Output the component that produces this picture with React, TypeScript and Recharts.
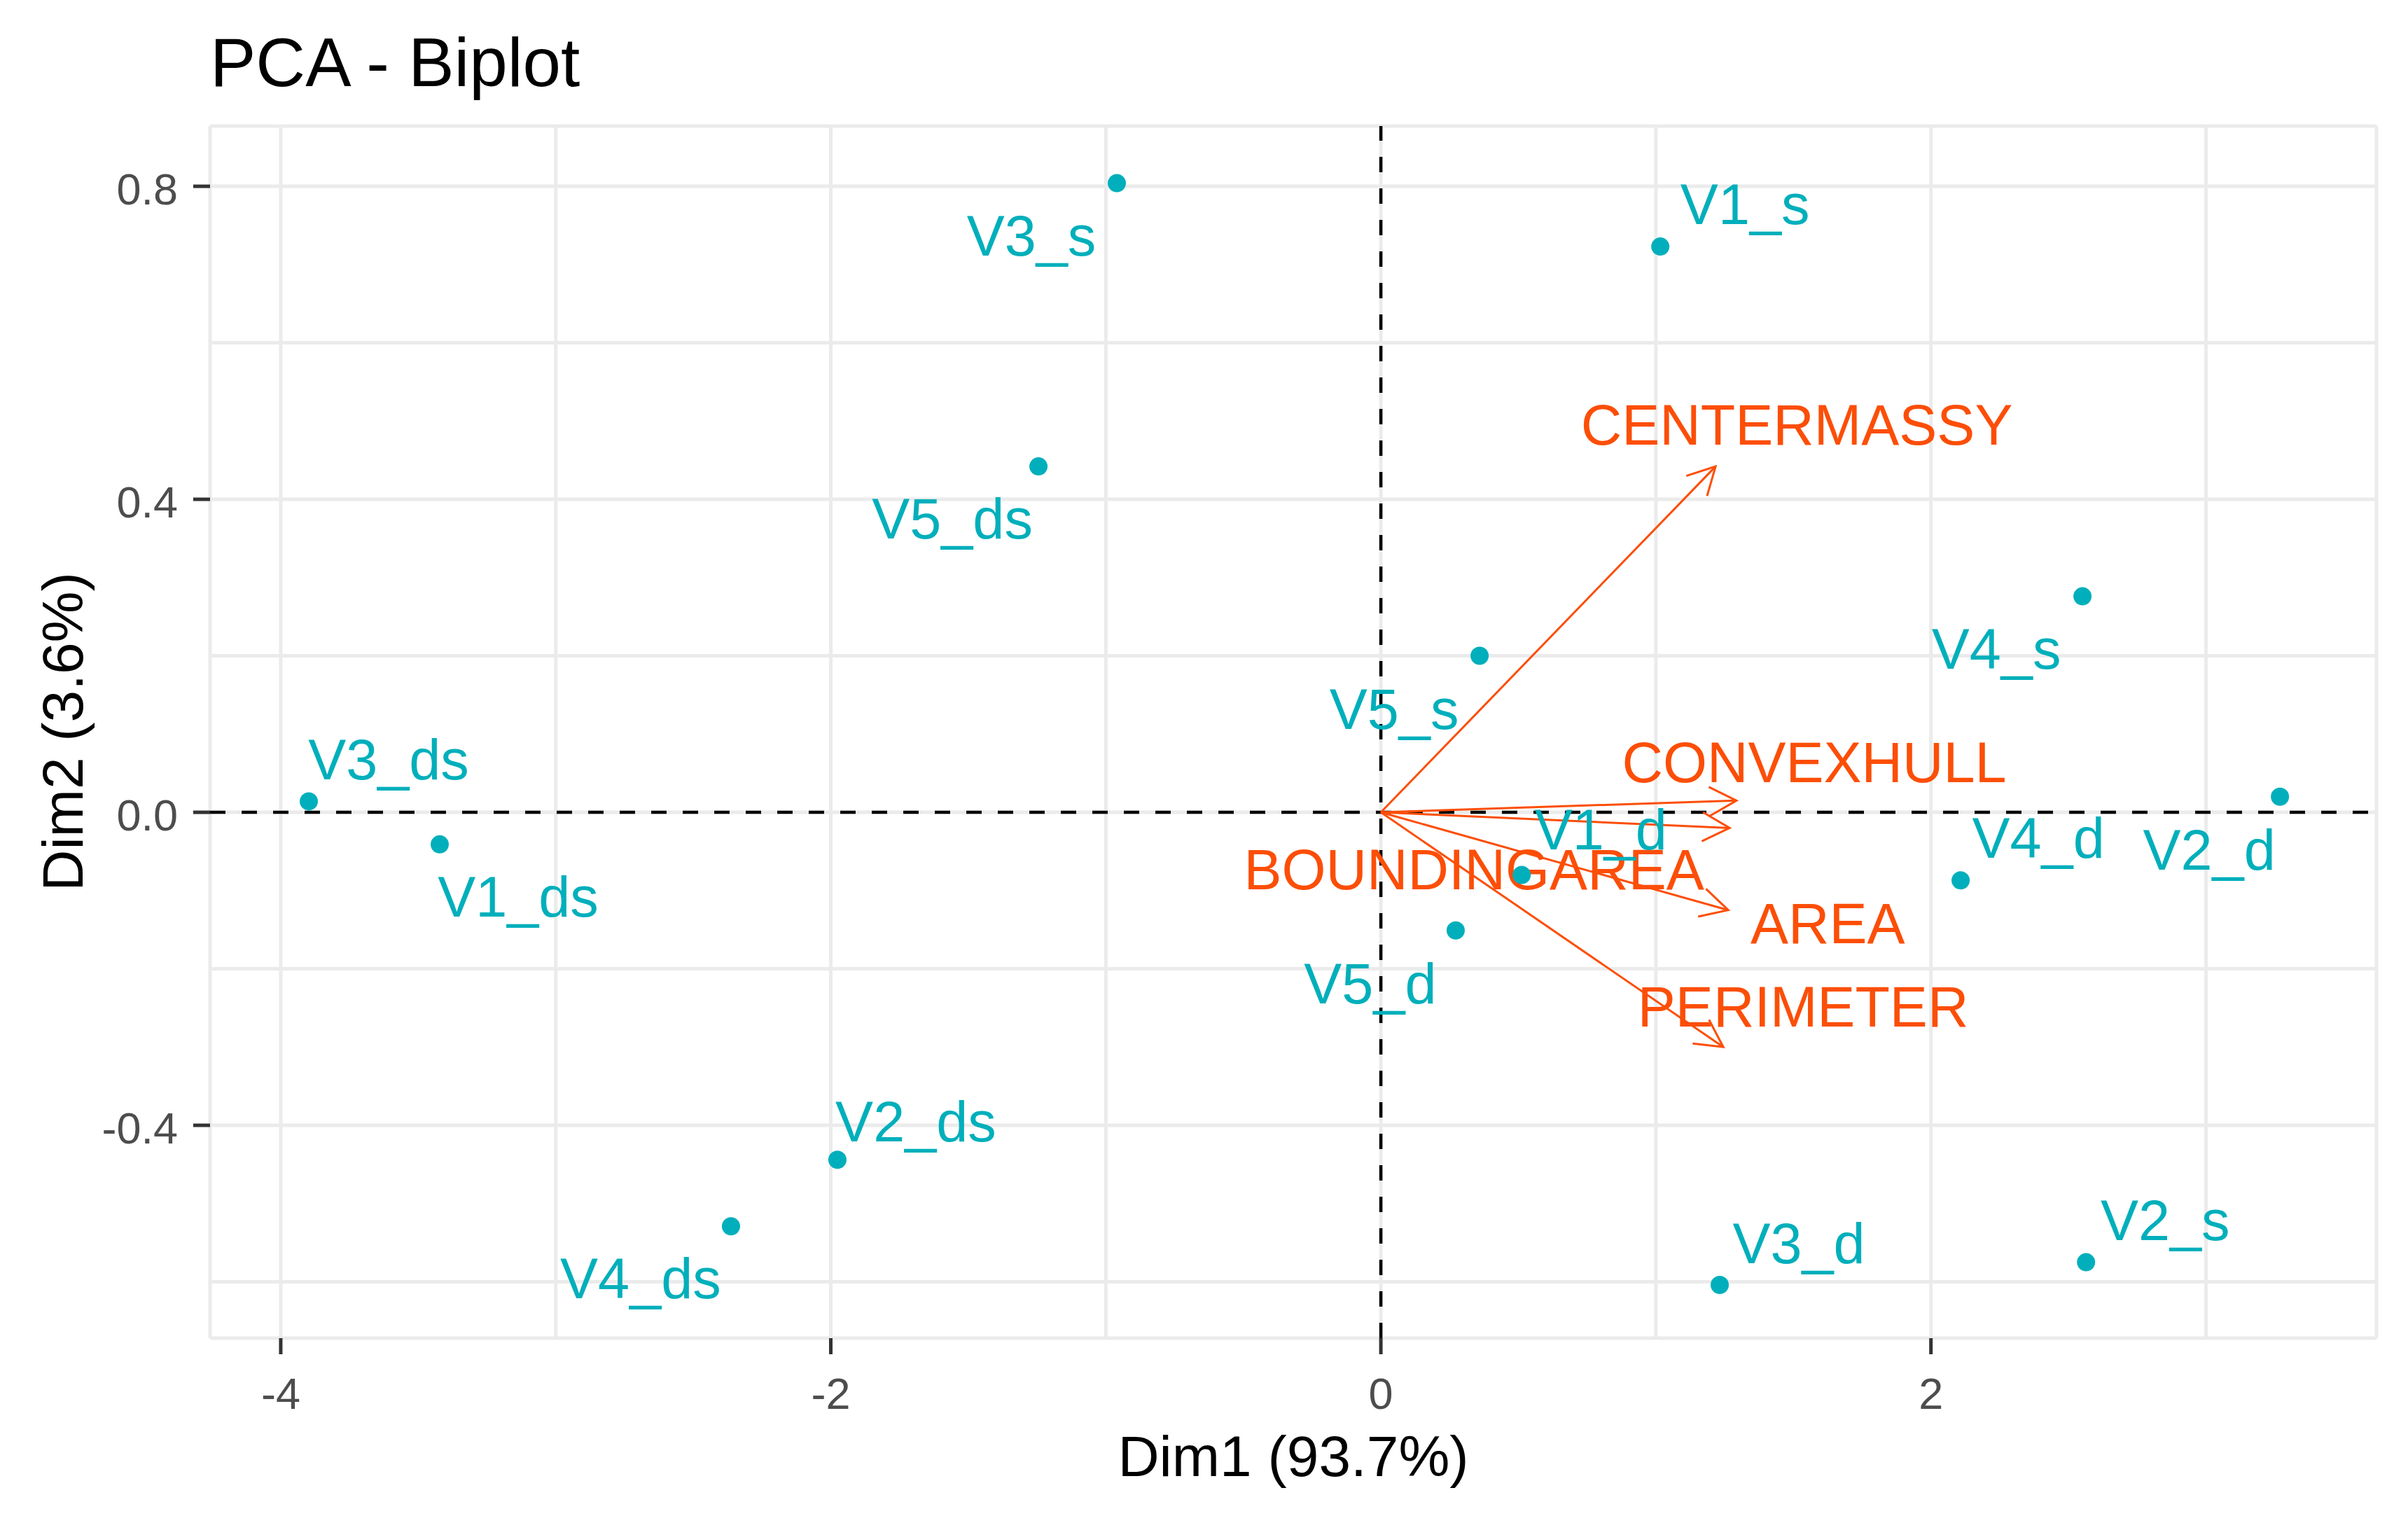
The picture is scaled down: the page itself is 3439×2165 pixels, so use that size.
import React from 'react';
import { ScatterChart, Scatter, XAxis, YAxis, CartesianGrid, ReferenceLine } from 'recharts';

// ---------- data ----------
const indNames = ['V1_s', 'V2_s', 'V3_s', 'V4_s', 'V5_s', 'V1_d', 'V2_d', 'V3_d', 'V4_d', 'V5_d', 'V1_ds', 'V2_ds', 'V3_ds', 'V4_ds', 'V5_ds'];
const indDim1 = [1.016, 2.564, -0.960, 2.551, 0.359, 0.512, 3.269, 1.232, 2.108, 0.272, -3.422, -1.976, -3.898, -2.363, -1.245];
const indDim2 = [0.723, -0.575, 0.804, 0.276, 0.200, -0.080, 0.020, -0.604, -0.087, -0.151, -0.041, -0.444, 0.014, -0.529, 0.442];

const varNames = ['AREA', 'PERIMETER', 'CONVEXHULL', 'BOUNDINGAREA', 'CENTERMASSY'];
const varDim1 = [1.263, 1.245, 1.293, 1.268, 1.217];
const varDim2 = [-0.125, -0.300, 0.015, -0.020, 0.442];

const xGridTicks = [-4, -3, -2, -1, 0, 1, 2, 3];
const xMajorTicks = [-4, -2, 0, 2];
const xTickLabels = ['-4', '-2', '0', '2'];
const yGridTicks = [-0.6, -0.4, -0.2, 0, 0.2, 0.4, 0.6, 0.8];
const yMajorTicks = [-0.4, 0, 0.4, 0.8];
const yTickLabels = ['-0.4', '0.0', '0.4', '0.8'];

const titleText = 'PCA - Biplot';
const xTitle = 'Dim1 (93.7%)';
const yTitle = 'Dim2 (3.6%)';

// ---------- layout / style ----------
const W = 3439;
const H = 2165;
const FONT = '"Liberation Sans", Arial, Helvetica, sans-serif';
const IND_COLOR = '#00AFBB';
const VAR_COLOR = '#FC4E07';

// label placement (pixel offsets of text centre/baseline from the mark), as repelled in the original
const IND_LABEL_OFFSETS: Record<string, [number, number]> = {
  V3_s: [-122, 103], V1_s: [121, -32], V5_ds: [-123, 103], V4_s: [-123, 103], V5_s: [-122, 104],
  V3_ds: [114, -31], V1_ds: [112, 103], V2_d: [-101, 104], V4_d: [111, -32], V1_d: [113, -36],
  V5_d: [-122, 104], V2_ds: [112, -26], V4_ds: [-129, 103], V3_d: [113, -31], V2_s: [113, -32],
};
const VAR_LABEL_OFFSETS: Record<string, [number, number]> = {
  CENTERMASSY: [116, -31], CONVEXHULL: [111, -26], BOUNDINGAREA: [-365, 88], AREA: [142, 47], PERIMETER: [114, -29],
};

const indData = indNames.map((name, i) => ({ name, x: indDim1[i], y: indDim2[i] }));
const varData = varNames.map((name, i) => ({ name, x: varDim1[i], y: varDim2[i] }));

const XTick = (props: any) => {
  const { x, y, payload } = props;
  const i = xMajorTicks.indexOf(payload.value);
  if (i < 0) return <g />;
  return (
    <g>
      <line x1={x} x2={x} y1={y} y2={y + 23} stroke="#333333" strokeWidth={5} />
      <text x={x} y={y + 101} textAnchor="middle" fontSize={63} fill="#4D4D4D" fontFamily={FONT}>
        {xTickLabels[i]}
      </text>
    </g>
  );
};

const YTick = (props: any) => {
  const { x, y, payload } = props;
  const i = yMajorTicks.indexOf(payload.value);
  if (i < 0) return <g />;
  return (
    <g>
      <line x1={x - 24} x2={x} y1={y} y2={y} stroke="#333333" strokeWidth={5} />
      <text x={x - 46} y={y + 26} textAnchor="end" fontSize={63} fill="#4D4D4D" fontFamily={FONT}>
        {yTickLabels[i]}
      </text>
    </g>
  );
};

const IndShape = (props: any) => {
  const { cx, cy, payload } = props;
  if (typeof cx !== 'number' || typeof cy !== 'number') return <g />;
  const off = IND_LABEL_OFFSETS[payload.name] || [0, 0];
  return (
    <g>
      <circle cx={cx} cy={cy} r={13} fill={IND_COLOR} />
      <text x={cx + off[0]} y={cy + off[1]} textAnchor="middle" fontSize={81} fill={IND_COLOR} fontFamily={FONT}>
        {payload.name}
      </text>
    </g>
  );
};

const makeArrowShape = (name: string) => (p: any) => {
  const { x1, y1, x2, y2 } = p;
  if ([x1, y1, x2, y2].some((v) => typeof v !== 'number' || isNaN(v))) return <g />;
  const ang = Math.atan2(y2 - y1, x2 - x1);
  const L = 44;
  const a = (28 * Math.PI) / 180;
  const b1x = x2 - L * Math.cos(ang - a);
  const b1y = y2 - L * Math.sin(ang - a);
  const b2x = x2 - L * Math.cos(ang + a);
  const b2y = y2 - L * Math.sin(ang + a);
  const off = VAR_LABEL_OFFSETS[name] || [0, 0];
  return (
    <g>
      <line x1={x1} y1={y1} x2={x2} y2={y2} stroke={VAR_COLOR} strokeWidth={3} />
      <polyline points={`${b1x},${b1y} ${x2},${y2} ${b2x},${b2y}`} fill="none" stroke={VAR_COLOR} strokeWidth={3} />
      <text x={x2 + off[0]} y={y2 + off[1]} textAnchor="middle" fontSize={81} fill={VAR_COLOR} fontFamily={FONT}>
        {name}
      </text>
    </g>
  );
};

export default function App() {
  return (
    <div style={{ position: 'absolute', left: 0, top: 0, width: W, height: H, background: '#ffffff' }}>
      <ScatterChart width={W} height={H} margin={{ top: 180, right: 45, bottom: 0, left: 0 }}>
        <CartesianGrid stroke="#EBEBEB" strokeWidth={5} />
        <XAxis
          type="number"
          dataKey="x"
          domain={[-4.257, 3.62]}
          ticks={xGridTicks}
          interval={0}
          allowDataOverflow
          axisLine={false}
          tickLine={false}
          tickSize={0}
          tickMargin={0}
          height={254}
          tick={<XTick />}
        />
        <YAxis
          type="number"
          dataKey="y"
          domain={[-0.672, 0.877]}
          ticks={yGridTicks}
          interval={0}
          allowDataOverflow
          axisLine={false}
          tickLine={false}
          tickSize={0}
          tickMargin={0}
          width={300}
          tick={<YTick />}
        />
        <ReferenceLine x={0} stroke="#000000" strokeWidth={4.5} strokeDasharray="22 23" />
        <ReferenceLine y={0} stroke="#000000" strokeWidth={4.5} strokeDasharray="22 23" />
        <Scatter data={indData} isAnimationActive={false} shape={<IndShape />} />
        {varData.map((v) => (
          <ReferenceLine
            key={v.name}
            segment={[{ x: 0, y: 0 }, { x: v.x, y: v.y }]}
            ifOverflow="visible"
            shape={makeArrowShape(v.name)}
          />
        ))}
      </ScatterChart>
      <svg width={W} height={H} style={{ position: 'absolute', left: 0, top: 0, pointerEvents: 'none' }}>
        <text x={300} y={123} fontSize={98} fill="#000000" fontFamily={FONT}>{titleText}</text>
        <text x={1847} y={2108} fontSize={82} fill="#000000" textAnchor="middle" fontFamily={FONT}>{xTitle}</text>
        <text x={118} y={1045} fontSize={82} fill="#000000" textAnchor="middle" fontFamily={FONT} transform="rotate(-90 118 1045)">{yTitle}</text>
      </svg>
    </div>
  );
}
